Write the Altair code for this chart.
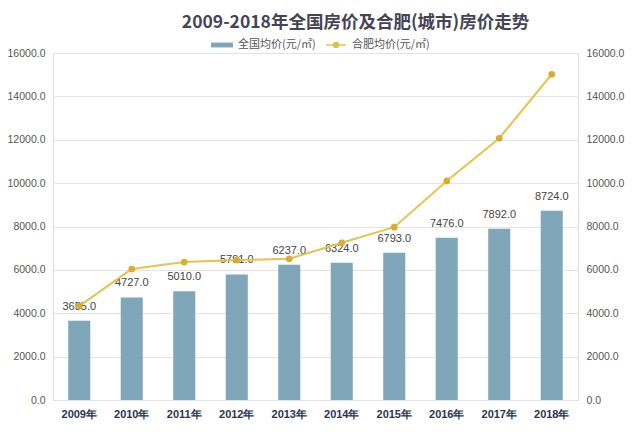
import altair as alt
import pandas as pd

years = ["2009年", "2010年", "2011年", "2012年", "2013年", "2014年", "2015年", "2016年", "2017年", "2018年"]
national = [3655, 4727, 5010, 5791, 6237, 6324, 6793, 7476, 7892, 8724]
hefei = [4330, 6040, 6360, 6450, 6510, 7250, 7970, 10100, 12070, 15020]

bar_name = "全国均价(元/㎡)"
line_name = "合肥均价(元/㎡)"

df = pd.DataFrame({"year": years, "national": national, "hefei": hefei,
                   "s_bar": bar_name, "s_line": line_name})

FONT = "Noto Sans CJK SC"
NUMFONT = "Liberation Sans"
BAR_C = "#7fa7b9"
LINE_C = "#e6c24e"
DOT_C = "#d9ad32"

ticks = [0, 2000, 4000, 6000, 8000, 10000, 12000, 14000, 16000]

x = alt.X("year:N", sort=years, title=None,
          scale=alt.Scale(paddingInner=0.58, paddingOuter=0.29),
          axis=alt.Axis(labelAngle=0, labelFont=NUMFONT, labelFontWeight="bold",
                        labelColor="#2b3550", labelFontSize=11, domain=False, ticks=False,
                        labelPadding=8))

yl = alt.Y("national:Q", title=None,
           scale=alt.Scale(domain=[0, 16000]),
           axis=alt.Axis(values=ticks, format=".1f", labelFont=NUMFONT, labelFontSize=10.5,
                         labelColor="#555555", domain=False, ticks=False, grid=True,
                         gridColor="#e3e3e3", labelPadding=8))

bars = alt.Chart(df).mark_bar(color=BAR_C).encode(
    x=x, y=yl,
    color=alt.Color("s_bar:N", scale=alt.Scale(domain=[bar_name], range=[BAR_C]),
                    legend=alt.Legend(title=None, orient="none", legendX=158, legendY=-19,
                                      symbolType="M-1,-0.22L1,-0.22L1,0.22L-1,0.22Z",
                                      symbolSize=484, symbolStrokeWidth=0, labelOffset=5,
                                      labelFont=FONT, labelFontSize=11, labelColor="#555555"))
)

labels = alt.Chart(df).mark_text(dy=-14, font=NUMFONT, fontSize=11, color="#444444").encode(
    x=x, y=yl,
    text=alt.Text("national:Q", format=".1f")
)

left = alt.layer(bars, labels)

yr = alt.Y("hefei:Q", title=None,
           scale=alt.Scale(domain=[0, 16000]),
           axis=alt.Axis(orient="right", values=ticks, format=".1f", labelFont=NUMFONT,
                         labelFontSize=10.5, labelColor="#555555", domain=False, ticks=False,
                         grid=False, labelPadding=8))

line = alt.Chart(df).mark_line(strokeWidth=2).encode(
    x=x, y=yr,
    stroke=alt.Stroke("s_line:N", scale=alt.Scale(domain=[line_name], range=[LINE_C]),
                      legend=alt.Legend(title=None, orient="none", legendX=272, legendY=-19,
                                        symbolType="M-1,0L1,0M-0.25,0A0.25,0.25,0,1,0,0.25,0A0.25,0.25,0,1,0,-0.25,0",
                                        symbolSize=400, symbolFillColor=DOT_C,
                                        symbolStrokeWidth=1.5, labelOffset=5,
                                        labelFont=FONT, labelFontSize=11, labelColor="#555555"))
)
pts = alt.Chart(df).mark_point(filled=True, size=45, color=DOT_C, opacity=1).encode(
    x=x, y=yr
)
right = alt.layer(line, pts)

chart = alt.layer(left, right).resolve_scale(y="independent", color="independent",
                                             stroke="independent").properties(
    width=525, height=347,
    autosize="none",
    padding={"left": 45, "top": 45, "right": 54, "bottom": 30},
    title=alt.TitleParams("2009-2018年全国房价及合肥(城市)房价走势", font=FONT, fontSize=17.5,
                          fontWeight="bold", color="#444455", anchor="middle", dx=40, offset=0,
                          dy=-3)
).configure_view(strokeWidth=0, stroke="transparent").configure(background="white")

chart.save("out.html", embed_options={"renderer": "svg", "actions": False})
